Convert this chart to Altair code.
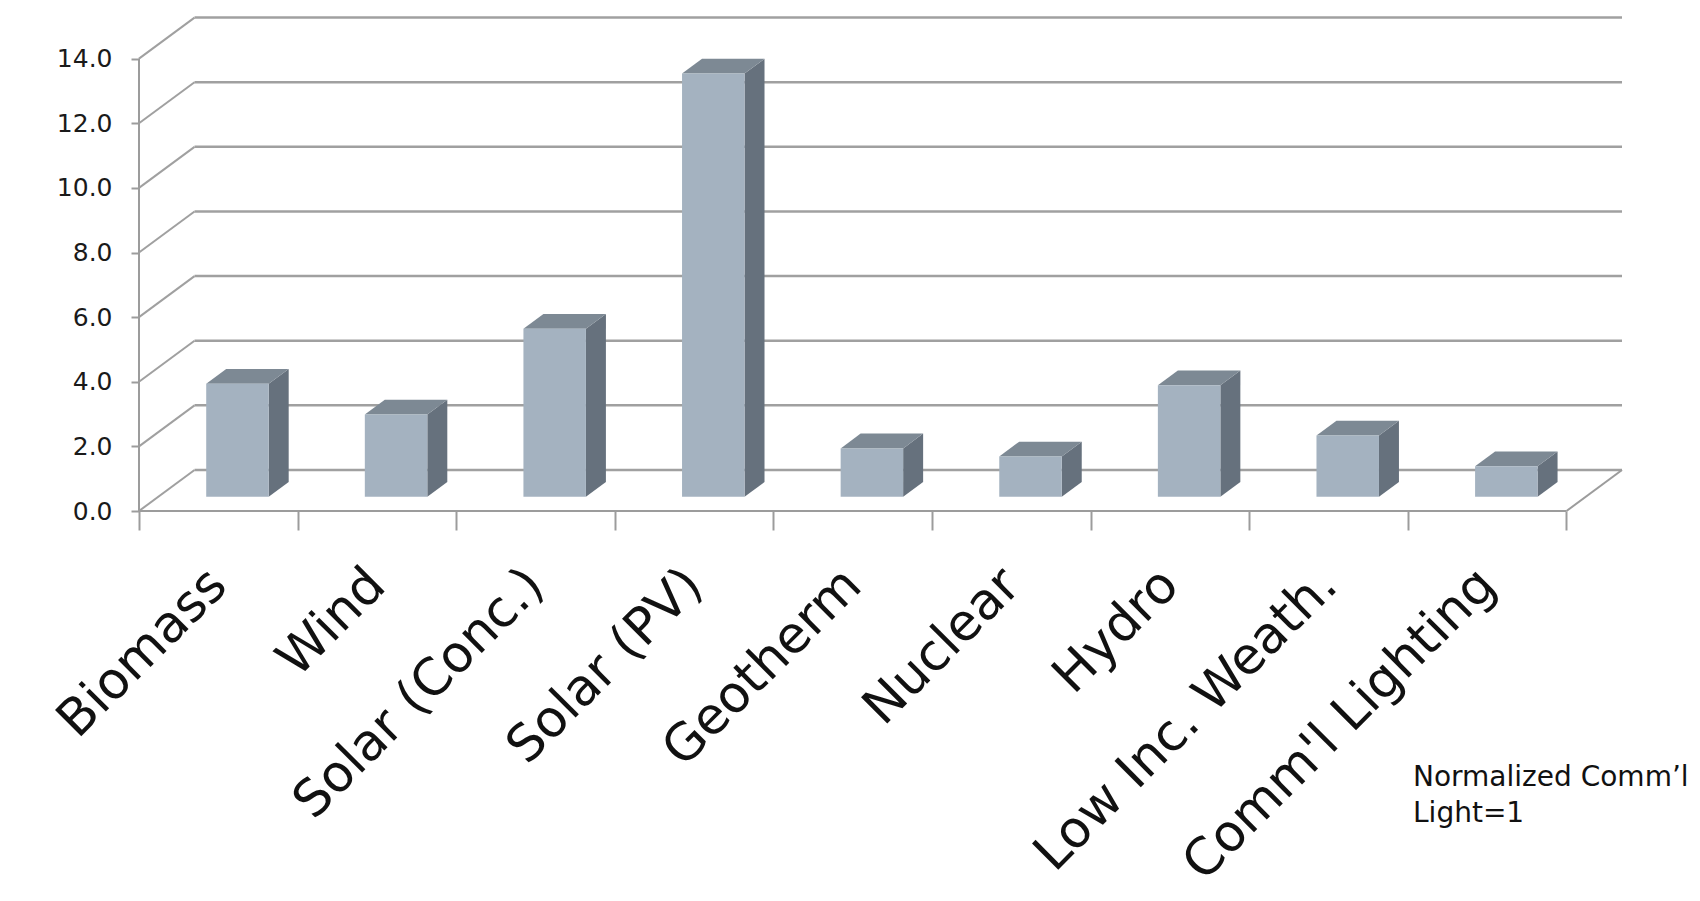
import json
import altair as alt
import pandas as pd

# ---------------- data ----------------
CATEGORIES = ["Biomass", "Wind", "Solar (Conc.)", "Solar (PV)", "Geotherm",
              "Nuclear", "Hydro", "Low Inc. Weath.", "Comm'l Lighting"]
VALUES = [3.5, 2.55, 5.2, 13.1, 1.5, 1.25, 3.45, 1.9, 0.95]
Y_TICKS = [0, 2, 4, 6, 8, 10, 12, 14]
NOTE_TEXT = "Normalized Comm\u2019l\nLight=1"

# ---------------- 3-D look (style constants) ----------------
DX = 0.35    # wall depth, category units
DY = 1.27    # wall depth, value units
F0 = 0.345   # depth position of bar front face (fraction of wall depth)
BD = 0.36    # bar depth (fraction of wall depth)
BW = 0.394   # bar front-face width (category units)

N = len(CATEGORIES)
XMAX = N + DX
YMAX = Y_TICKS[-1] + DY + 0.05

FRONT = "#a4b2c0"
SIDE = "#66717d"
TOP = "#7d8994"
WALL = "#a0a0a0"
AXISC = "#9c9c9c"

# ---------------- tables built from the arrays ----------------
front_rows, side_rows, top_rows = [], [], []
for i, (c, v) in enumerate(zip(CATEGORIES, VALUES)):
    xl = i + 0.5 + F0 * DX - BW / 2
    xr = xl + BW
    y0 = F0 * DY
    front_rows.append(dict(cat=c, x=xl, x2=xr, y=y0, y2=y0 + v))
    side_rows.append(dict(cat=c, x=xr, y=y0, y2=y0 + v))
    side_rows.append(dict(cat=c, x=xr + BD * DX, y=y0 + BD * DY, y2=y0 + BD * DY + v))
    top_rows.append(dict(cat=c, y=y0 + v, x=xl, x2=xr))
    top_rows.append(dict(cat=c, y=y0 + v + BD * DY, x=xl + BD * DX, x2=xr + BD * DX))
front_df = pd.DataFrame(front_rows)
side_df = pd.DataFrame(side_rows)
top_df = pd.DataFrame(top_rows)

back_df = pd.DataFrame({"x": [DX] * len(Y_TICKS), "x2": [N + DX] * len(Y_TICKS),
                        "y": [t + DY for t in Y_TICKS]})
diag_df = pd.DataFrame({"x": [0.0] * len(Y_TICKS), "x2": [DX] * len(Y_TICKS),
                        "y": Y_TICKS, "y2": [t + DY for t in Y_TICKS]})
edge_df = pd.DataFrame({
    "x": [0.0, 0.0, float(N)],
    "x2": [float(N), 0.0, N + DX],
    "y": [0.0, 0.0, 0.0],
    "y2": [0.0, float(Y_TICKS[-1]), DY],
})
note_df = pd.DataFrame({"t": [NOTE_TEXT]})

# ---------------- scales / axes ----------------
XS = alt.Scale(domain=[0, XMAX], nice=False, zero=False)
YS = alt.Scale(domain=[0, YMAX], nice=False, zero=False)

x_vals = [k / 2 for k in range(0, 2 * N + 1)]
label_expr = ("(datum.value % 1) == 0.5 ? " + json.dumps(CATEGORIES) +
              "[floor(datum.value)] : ''")
X_AXIS = alt.Axis(
    values=x_vals, labelExpr=label_expr, title=None, grid=False, domain=False,
    tickSize=19, tickWidth=2, tickColor=AXISC,
    tickOpacity={"condition": {"test": "(datum.value % 1) == 0", "value": 1}, "value": 0},
    labelAngle=-45, labelAlign="right", labelBaseline="middle",
    labelFont="DejaVu Sans", labelFontSize=51, labelColor="#111111",
    labelPadding=47, labelOverlap=False, labelFlush=False, labelLimit=2000,
)
Y_AXIS = alt.Axis(
    values=Y_TICKS, format=".1f", title=None, grid=False, domain=False,
    tickSize=8, tickWidth=2, tickColor=AXISC,
    labelFont="DejaVu Sans", labelFontSize=25, labelColor="#1a1a1a",
    labelPadding=19,
)


def X(field="x"):
    return alt.X(f"{field}:Q", scale=XS, axis=X_AXIS)


def Y(field="y"):
    return alt.Y(f"{field}:Q", scale=YS, axis=Y_AXIS)


back = alt.Chart(back_df).mark_rule(color=WALL, strokeWidth=2.5).encode(
    x=X(), x2="x2:Q", y=Y())
diag = alt.Chart(diag_df).mark_rule(color=WALL, strokeWidth=2).encode(
    x=X(), x2="x2:Q", y=Y(), y2="y2:Q")
edges = alt.Chart(edge_df).mark_rule(color=AXISC, strokeWidth=2).encode(
    x=X(), x2="x2:Q", y=Y(), y2="y2:Q")

side = alt.Chart(side_df).mark_area(orient="vertical", color=SIDE).encode(
    x=X(), y=Y(), y2="y2:Q", detail="cat:N")
top = alt.Chart(top_df).mark_area(orient="horizontal", color=TOP).encode(
    y=Y(), x=X(), x2="x2:Q", detail="cat:N")
front = alt.Chart(front_df).mark_rect(color=FRONT).encode(
    x=X(), x2="x2:Q", y=Y(), y2="y2:Q")

note = alt.Chart(note_df).mark_text(
    align="left", baseline="alphabetic", font="DejaVu Sans", fontSize=28,
    color="#111111", lineBreak="\n", lineHeight=36,
).encode(text="t:N", x=alt.value(1274), y=alt.value(770))

chart = alt.layer(back, diag, edges, side, top, front, note).properties(
    width=1483, height=495,
    background="white",
    autosize=alt.AutoSizeParams(type="none"),
    padding={"left": 131, "top": 8, "right": 70, "bottom": 384},
).configure_view(strokeWidth=0, strokeOpacity=0)

chart.save("out.html", embed_options={"renderer": "svg", "actions": False})
